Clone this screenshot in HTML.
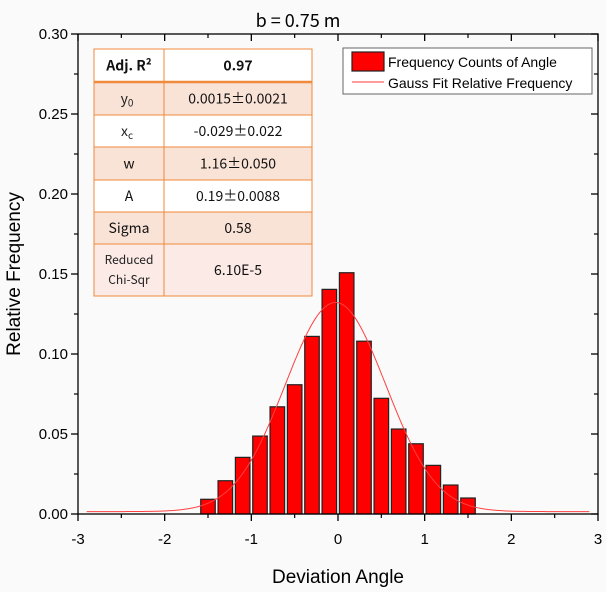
<!DOCTYPE html>
<html><head><meta charset="utf-8"><style>
body{margin:0;background:#fafafa;}
svg{display:block;font-family:"Liberation Sans",sans-serif;}
.tbl{font-family:"Noto Sans CJK SC","Liberation Sans",sans-serif;}
</style></head><body>
<svg id="chart" width="606" height="592" viewBox="0 0 606 592">
<rect x="0" y="0" width="606" height="592" fill="#fafafa"/>
<text x="298" y="27" font-size="18" text-anchor="middle" class="tbl">b = 0.75 m</text>
<g id="plot"></g>
</svg>
<script>
const binCenters=[-1.5,-1.3,-1.1,-0.9,-0.7,-0.5,-0.3,-0.1,0.1,0.3,0.5,0.7,0.9,1.1,1.3,1.5];
const freqValues=[0.0092,0.0208,0.0354,0.0487,0.067,0.0808,0.111,0.1404,0.1508,0.108,0.0723,0.0531,0.0439,0.0304,0.0181,0.01];
const fitY0=0.0015, fitXc=-0.029, fitW=1.16, fitA=0.19;
const xTicks=[-3,-2,-1,0,1,2,3];
const yTicks=[0,0.05,0.10,0.15,0.20,0.25,0.30];
const yTickLabels=["0.00","0.05","0.10","0.15","0.20","0.25","0.30"];
const tableRows=[["Adj. R²","0.97"],["y0","0.0015±0.0021"],["xc","-0.029±0.022"],["w","1.16±0.050"],["A","0.19±0.0088"],["Sigma","0.58"],["Reduced Chi-Sqr","6.10E-5"]];

const L=78,R=598,T=34,B=514;
const xs=v=>L+(v+3)/6*(R-L);
const ys=v=>B-v/0.3*(B-T);
const NS="http://www.w3.org/2000/svg";
const g=document.getElementById('plot');
function mk(tag,attrs,parent){const e=document.createElementNS(NS,tag);for(const k in attrs)e.setAttribute(k,attrs[k]);(parent||g).appendChild(e);return e;}

// bars
binCenters.forEach((c,i)=>{
  const bw=(xs(0.168)-xs(0));
  const r=mk('rect',{x:xs(c)-bw/2,y:ys(freqValues[i]),width:bw,height:ys(0)-ys(freqValues[i]),fill:'#ff0000',stroke:'#222','stroke-width':1.2});
  
  
});
// fit curve
let d='';
for(let x=-2.9;x<=2.9001;x+=0.02){
  const y=fitY0+fitA/(fitW*Math.sqrt(Math.PI/2))*Math.exp(-2*(x-fitXc)*(x-fitXc)/(fitW*fitW));
  d+=(d?'L':'M')+xs(x).toFixed(2)+','+ys(y).toFixed(2);
}
const fc=mk('path',{d:d,fill:'none',stroke:'#ff4040','stroke-width':1});



// frame
const fr=mk('rect',{x:L,y:T,width:R-L,height:B-T,fill:'none',stroke:'#000','stroke-width':1.3});


// x ticks
xTicks.forEach((v,i)=>{
  mk('line',{x1:xs(v),x2:xs(v),y1:B,y2:B+7,stroke:'#000','stroke-width':1.3});
  mk('line',{x1:xs(v),x2:xs(v),y1:T,y2:T+7,stroke:'#000','stroke-width':1.3});
  if(i<xTicks.length-1){const m=v+0.5;
    mk('line',{x1:xs(m),x2:xs(m),y1:B,y2:B+4,stroke:'#000','stroke-width':1.2});
    mk('line',{x1:xs(m),x2:xs(m),y1:T,y2:T+4,stroke:'#000','stroke-width':1.2});}
  const t=mk('text',{x:xs(v),y:544,'font-size':15,'text-anchor':'middle'});
  t.textContent=v;
  
  
});
// y ticks
yTicks.forEach((v,i)=>{
  mk('line',{x1:L-7,x2:L,y1:ys(v),y2:ys(v),stroke:'#000','stroke-width':1.3});
  mk('line',{x1:R-7,x2:R,y1:ys(v),y2:ys(v),stroke:'#000','stroke-width':1.3});
  if(i<yTicks.length-1){const m=v+0.025;
    mk('line',{x1:L-4,x2:L,y1:ys(m),y2:ys(m),stroke:'#000','stroke-width':1.2});
    mk('line',{x1:R-4,x2:R,y1:ys(m),y2:ys(m),stroke:'#000','stroke-width':1.2});}
  const t=mk('text',{x:L-10,y:ys(v)+5,'font-size':15,'text-anchor':'end'});
  t.textContent=yTickLabels[i];
  
  
});
const xt=mk('text',{x:338,y:583,'font-size':19,'text-anchor':'middle'});
xt.textContent='Deviation Angle';


const yt=mk('text',{x:0,y:0,'font-size':19,'text-anchor':'middle',transform:'translate(20,274) rotate(-90)'});
yt.textContent='Relative Frequency';



// legend
const lg=mk('g',{});


mk('rect',{x:343,y:48,width:249,height:46,fill:'#fff',stroke:'#666','stroke-width':1},lg);
mk('rect',{x:352,y:52,width:32,height:19,fill:'#ff0000',stroke:'#222','stroke-width':1.2},lg);
const l1=mk('text',{x:388,y:67,'font-size':14},lg);l1.textContent='Frequency Counts of Angle';


mk('line',{x1:352,x2:384,y1:82,y2:82,stroke:'#ff6060','stroke-width':1.2},lg);
const l2=mk('text',{x:388,y:88,'font-size':14},lg);l2.textContent='Gauss Fit Relative Frequency';



// table
const tb=mk('g',{class:'tbl'});


const rowY=[49,82,115,147,180,212,244,296];
const fills=['#ffffff','#f9e2d6','#ffffff','#f9e2d6','#ffffff','#f9e2d6','#fbeae6'];
tableRows.forEach((r,i)=>{
  const y0=rowY[i],h=rowY[i+1]-rowY[i];
  mk('rect',{x:94,y:y0,width:218,height:h,fill:fills[i],stroke:'#f08a3c','stroke-width':1},tb);
  mk('line',{x1:164,x2:164,y1:y0,y2:y0+h,stroke:'#f08a3c','stroke-width':1},tb);
  const cy=y0+h/2+5;
  if(i==6){
    const a=mk('text',{x:129,y:y0+20,'font-size':12,'text-anchor':'middle',fill:'#222'},tb);a.textContent='Reduced';
    const b=mk('text',{x:129,y:y0+40,'font-size':12,'text-anchor':'middle',fill:'#222'},tb);b.textContent='Chi-Sqr';
  } else if(i==1||i==2){
    const a=mk('text',{x:127,y:cy,'font-size':14,'text-anchor':'middle',fill:'#222'},tb);
    a.textContent=r[0][0];
    const s=mk('tspan',{'font-size':10,dy:3},a);s.textContent=r[0][1];
  } else {
    const a=mk('text',{x:129,y:cy,'font-size':14,'text-anchor':'middle',fill:'#111','font-weight':i==0?'bold':'normal'},tb);
    a.textContent=r[0];
  }
  const v=mk('text',{x:238,y:cy,'font-size':14,'text-anchor':'middle',fill:'#111','font-weight':i==0?'bold':'normal'},tb);
  v.textContent=r[1];
});
mk('line',{x1:94,x2:312,y1:82,y2:82,stroke:'#f08a3c','stroke-width':2.5},tb);
</script>
</body></html>
